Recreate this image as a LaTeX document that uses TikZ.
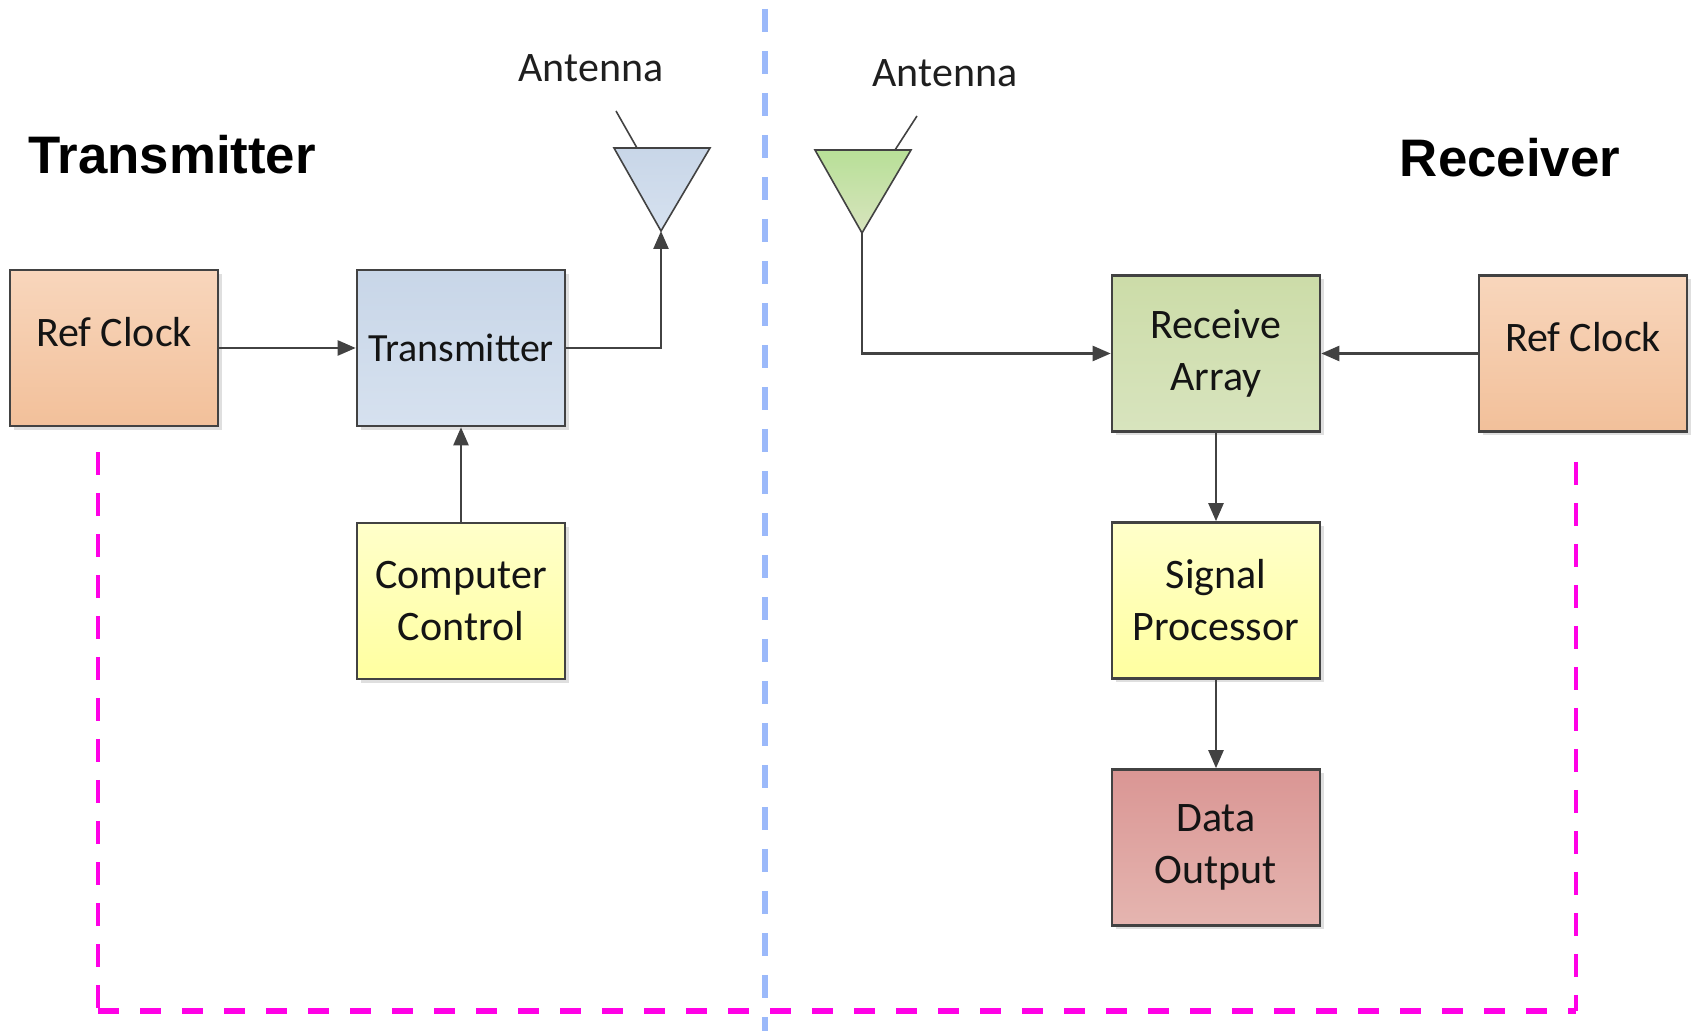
\documentclass[tikz,border=0pt]{standalone}
\usepackage{fontspec}
\setmainfont{Carlito}
\newfontfamily\arialfont{Liberation Sans}
\usetikzlibrary{positioning,arrows.meta,shadows}
\definecolor{edge}{RGB}{66,66,66}
\definecolor{orngA}{RGB}{248,214,188}
\definecolor{orngB}{RGB}{242,192,154}
\definecolor{bluA}{RGB}{200,214,232}
\definecolor{bluB}{RGB}{214,225,239}
\definecolor{yelA}{RGB}{255,255,202}
\definecolor{yelB}{RGB}{255,255,160}
\definecolor{grnA}{RGB}{204,220,168}
\definecolor{grnB}{RGB}{216,228,190}
\definecolor{pnkA}{RGB}{218,150,148}
\definecolor{pnkB}{RGB}{229,181,176}
\definecolor{sepblue}{RGB}{155,185,250}
\definecolor{mag}{RGB}{255,0,230}

\begin{document}
\begin{tikzpicture}[x=0.5pt,y=-0.5pt,
            box/.style={rectangle, draw=edge, line width=1.3pt, minimum width=104pt, minimum height=78pt, align=center,
                font=\fontsize{21}{26}\selectfont, text=black!92,
                drop shadow={shadow xshift=2pt, shadow yshift=-2pt, fill=black!25, opacity=0.5}},
            orng/.style={box, top color=orngA, bottom color=orngB},
            blu/.style={box, top color=bluA, bottom color=bluB},
            yel/.style={box, top color=yelA, bottom color=yelB},
            grn/.style={box, top color=grnA, bottom color=grnB},
            pnk/.style={box, top color=pnkA, bottom color=pnkB},
            arr/.style={draw=edge, line width=1.2pt, -{Triangle[length=9pt, width=7.5pt]}},
            ant/.style={draw=edge, line width=0.8pt, line join=miter},
            ttl/.style={font=\arialfont\bfseries\fontsize{26.4}{30}\selectfont},
            lbl/.style={font=\fontsize{21}{26}\selectfont, text=black!88},
            sep/.style={draw=sepblue, line width=2.8pt, dash pattern=on 11.5pt off 9.5pt},
            frame/.style={draw=mag, line width=2.3pt, dash pattern=on 11.5pt off 9pt},]
        \useasboundingbox (0,0) rectangle (1694,1031);
        % transmitter side
        \node[orng](1) at (114,348){\raisebox{8pt}[\height][\depth]{Ref Clock}};
        \node[blu, font=\fontsize{20}{26}\selectfont](2)[right=68.2pt of 1]{Transmitter};
        \node[yel](3)[below=47.2pt of 2]{Computer\\Control};
        % receiver side
        \node[grn](4) at (1216,353.5){Receive\\Array};
        \node[orng](5)[right=78.2pt of 4]{\raisebox{8pt}[\height][\depth]{Ref Clock}};
        \node[yel](6)[below=44.2pt of 4]{Signal\\Processor};
        \node[pnk](7)[below=44.2pt of 6]{Data\\Output};
        % antennas
        \draw[ant, top color=bluA, bottom color=bluB] (614,148) -- (710,148) -- (661,231) -- cycle;
        \draw[ant] (616,111) -- (637,148);
        \coordinate (a1) at (661,231);
        \draw[ant, top color=grnA!90!green, bottom color=grnB] (815,150) -- (911,150) -- (862,233) -- cycle;
        \draw[ant] (895,150) -- (917,116);
        \coordinate (a2) at (862,233);
        \node[lbl](l1) at (591,68){Antenna};
        \node[lbl](l2) at (945,73){Antenna};
        \node[ttl](t1) at (172,155){Transmitter};
        \node[ttl](t2) at (1510,158){Receiver};
        % connectors
        \draw[arr] (1.east) -- (2.west);
        \draw[arr] (2.east) -| (a1);
        \draw[arr] (3.north) -- (2.south);
        \draw[arr] (a2) |- (4.west);
        \draw[arr] (5.west) -- (4.east);
        \draw[arr] (4.south) -- (6.north);
        \draw[arr] (6.south) -- (7.north);
        % dashed separators
        \coordinate (s1) at (765,9);
        \coordinate (s2) at (765,1031);
        \draw[sep] (s1) -- (s2);
        \coordinate (m1) at (98,452);
        \coordinate (m2) at (98,1011);
        \coordinate (m3) at (1576,1011);
        \coordinate (m4) at (1576,462);
        \draw[frame] (m1) -- (m2);
        \draw[frame] (m4) -- (m3);
        \draw[frame, line width=2.8pt, dash pattern=on 10.5pt off 10.5pt] (m2) -- (m3);
    \end{tikzpicture}
\end{document}
